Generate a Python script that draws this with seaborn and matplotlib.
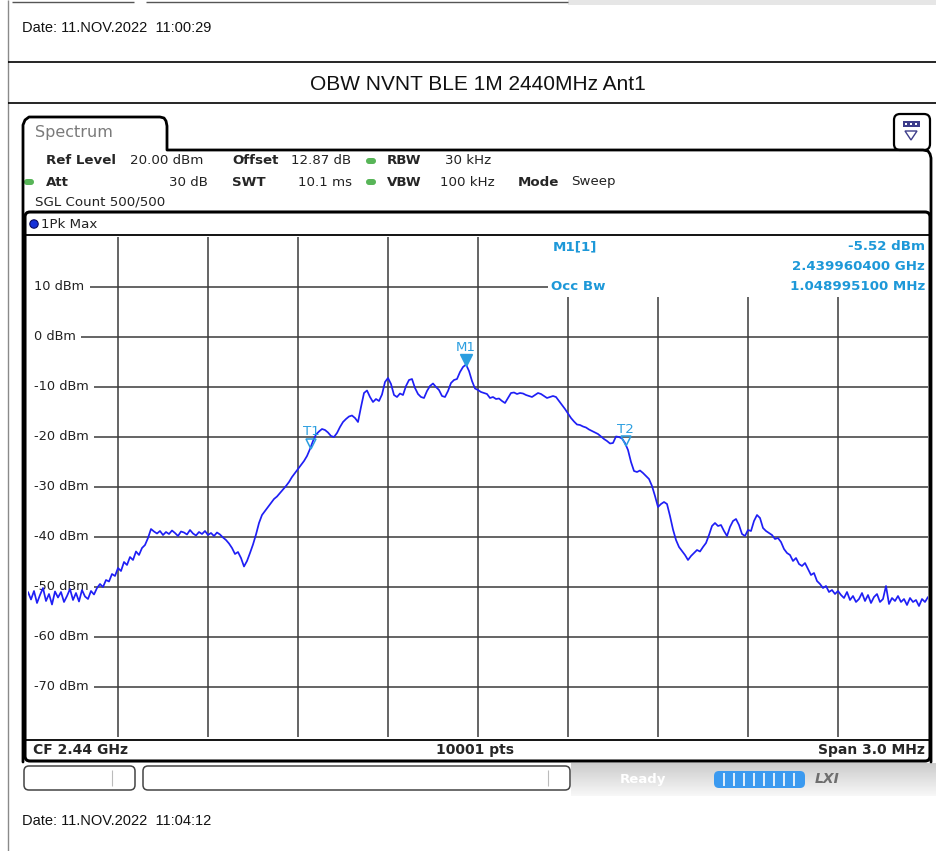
import numpy as np
import matplotlib
matplotlib.use("Agg")
import matplotlib.pyplot as plt
from matplotlib.patches import FancyBboxPatch, Rectangle, Polygon, Circle
import seaborn as sns

# Sweep: CF 2.44 GHz, span 3.0 MHz, trace every 0.01 MHz
freq_mhz = np.linspace(2438.5, 2441.5, 301)

# left skirt and rising edge (2438.50 .. 2439.46 MHz)
left_dbm = [-51.0, -52.5, -50.8, -53.2, -51.6, -50.2, -52.8, -51.4, -53.5, -50.9,
            -52.1, -51.0, -53.0, -51.8, -50.4, -52.6, -51.2, -52.9, -50.6, -51.9,
            -52.4, -50.8, -51.5, -50.2, -49.4, -50.0, -48.6, -48.9, -47.4, -47.8,
            -46.2, -46.8, -45.0, -45.6, -44.0, -44.6, -42.9, -43.6, -42.2, -41.6,
            -40.2, -38.4, -38.9, -39.3, -38.8, -39.6, -39.0, -39.4, -38.7, -39.2,
            -39.8, -38.9, -39.1, -39.5, -38.6, -39.3, -39.7, -39.0, -39.4, -38.8,
            -39.6, -39.2, -39.8, -39.1, -39.5, -40.1, -40.6, -41.3, -42.2, -43.4,
            -43.0, -44.2, -45.9, -44.8, -43.2, -41.5, -39.5, -37.2, -35.6, -34.8,
            -34.0, -33.2, -32.4, -31.9, -31.2, -30.5, -29.8, -29.0, -28.0, -27.2,
            -26.4, -25.6, -24.8, -23.8, -22.4, -20.8, -19.5]

# main lobe (2439.47 .. 2440.49 MHz)
main_dbm = [-18.9, -18.4, -18.6, -19.1, -19.8, -20.0, -19.2, -18.0, -17.0, -16.4,
            -15.9, -15.7, -16.2, -17.0, -14.0, -11.2, -10.7, -12.0, -13.0, -12.4,
            -12.8, -11.5, -9.0, -8.2, -9.4, -11.6, -12.0, -11.3, -11.6, -9.8,
            -8.6, -8.4, -10.2, -11.4, -12.0, -12.2, -10.8, -9.8, -9.3, -10.0,
            -10.6, -11.8, -12.0, -10.8, -9.2, -8.6, -8.4, -7.0, -6.0, -5.5,
            -6.8, -8.8, -10.3, -10.6, -11.0, -11.2, -11.4, -12.2, -12.0, -12.4,
            -12.3, -12.8, -13.2, -12.2, -11.2, -11.1, -11.4, -11.2, -11.3, -11.6,
            -11.8, -12.0, -11.6, -11.2, -11.4, -11.8, -12.2, -12.0, -11.8, -12.0,
            -12.8, -13.6, -14.4, -15.3, -16.2, -16.9, -17.5, -17.6, -17.9, -18.1,
            -18.5, -18.8, -19.1, -19.4, -19.9, -20.4, -20.8, -21.3, -21.2, -19.9,
            -20.0, -20.3, -21.2]

# falling edge and right skirt (2440.50 .. 2441.50 MHz)
right_dbm = [-22.6, -25.0, -26.8, -27.0, -26.7, -27.2, -27.8, -28.4, -29.8, -31.8,
             -34.0, -33.4, -33.0, -33.4, -35.8, -38.5, -40.6, -42.0, -42.8, -43.6,
             -44.6, -43.8, -43.2, -42.6, -42.9, -42.0, -41.2, -39.6, -37.8, -37.2,
             -37.8, -37.6, -38.8, -39.8, -38.0, -36.8, -36.4, -37.6, -39.4, -39.8,
             -38.6, -38.8, -36.8, -35.6, -36.2, -38.2, -38.8, -39.2, -39.6, -40.4,
             -40.2, -41.0, -42.4, -43.2, -43.6, -44.8, -44.2, -45.4, -45.8, -45.2,
             -46.4, -47.6, -47.2, -48.8, -49.4, -50.2, -49.8, -51.0, -50.6, -51.4,
             -50.8, -51.6, -52.2, -51.0, -52.6, -51.8, -53.0, -52.4, -51.2, -52.8,
             -51.6, -53.2, -52.0, -51.4, -53.0, -52.4, -49.8, -53.4, -52.2, -52.8,
             -51.8, -53.0, -52.4, -53.6, -52.2, -53.0, -52.6, -53.8, -52.4, -53.0,
             -52.0]

level_dbm = np.array(left_dbm + main_dbm + right_dbm)

ytick_vals = [10, 0, -10, -20, -30, -40, -50, -60, -70]
ytick_labels = ["10 dBm", "0 dBm", "-10 dBm", "-20 dBm", "-30 dBm",
                "-40 dBm", "-50 dBm", "-60 dBm", "-70 dBm"]

m1_freq = 2439.9604      # MHz
m1_level = -5.52         # dBm
occ_bw = 1.0489951       # MHz
t1_freq = 2439.443
t2_freq = t1_freq + occ_bw

TRACE = "#1f1ff5"
MARK = "#2b9ee0"
INFO = "#1d98d8"

sns.set_style("white")
plt.rcParams["font.family"] = ["DejaVu Sans"]

fig = plt.figure(figsize=(9.37, 8.51), dpi=100)

# pixel canvas for the screen furniture
bg = fig.add_axes([0, 0, 1, 1])
bg.set_xlim(0, 937)
bg.set_ylim(851, 0)
bg.axis("off")


def hline(x0, x1, y, lw=1.0, c="black", z=2):
    bg.plot([x0, x1], [y, y], color=c, lw=lw, solid_capstyle="butt", zorder=z)


def vline(x, y0, y1, lw=1.0, c="black", z=2):
    bg.plot([x, x], [y0, y1], color=c, lw=lw, solid_capstyle="butt", zorder=z)


def rbox(x0, y0, x1, y1, r=5, lw=1.0, ec="black", fc="none", z=2):
    bg.add_patch(FancyBboxPatch((x0, y0), x1 - x0, y1 - y0,
                                boxstyle="round,pad=0,rounding_size=%d" % r,
                                lw=lw, ec=ec, fc=fc, zorder=z))


# page: remnants of previous screen, borders, date, title
hline(12, 134, 2, lw=1, c="#555")
hline(146, 568, 2, lw=1, c="#555")
bg.add_patch(Rectangle((568, 0), 369, 5, fc="#e6e6e6", ec="none"))
vline(8, 0, 851, lw=1, c="#8a8a8a")
hline(8, 937, 62, lw=1.2)
hline(8, 937, 103, lw=1.2)
bg.text(22, 28, "Date: 11.NOV.2022  11:00:29", family="Liberation Sans",
        fontsize=10.5, va="center", ha="left", color="#111")
bg.text(478, 84, "OBW NVNT BLE 1M 2440MHz Ant1", family="Liberation Sans",
        fontsize=15, va="center", ha="center", color="#111")
bg.text(22, 821, "Date: 11.NOV.2022  11:04:12", family="Liberation Sans",
        fontsize=10.5, va="center", ha="left", color="#111")

# spectrum window with its tab
tab_x = [23, 23, 25, 29, 160, 164, 166, 167, 167, 923, 928, 930, 931, 931]
tab_y = [762, 125, 120, 117, 117, 118, 121, 126, 150, 150, 151, 154, 158, 762]
bg.plot(tab_x, tab_y, color="black", lw=2.0)
bg.text(35, 133, "Spectrum", fontsize=11.5, color="#7a7a7a", va="center")

# icon top right
rbox(894, 114, 930, 150, r=6, lw=1.6)
bg.add_patch(Rectangle((903, 121), 17, 6, fc="#3d3d8a", ec="none"))
for dx in (906, 911, 916):
    bg.add_patch(Rectangle((dx - 1, 123), 2, 2, fc="white", ec="none"))
bg.add_patch(Polygon([[905, 131], [917, 131], [911, 140]], closed=True,
                     fc="none", ec="#3d3d8a", lw=1))

# header settings
fs = 9.6
row1, row2, row3 = 161, 182, 202
bg.text(46, row1, "Ref Level", fontsize=fs, weight="bold", va="center")
bg.text(130, row1, "20.00 dBm", fontsize=fs, va="center", color="#222")
bg.text(232, row1, "Offset", fontsize=fs, weight="bold", va="center")
bg.text(291, row1, "12.87 dB", fontsize=fs, va="center", color="#222")
bg.text(387, row1, "RBW", fontsize=fs, weight="bold", va="center")
bg.text(445, row1, "30 kHz", fontsize=fs, va="center", color="#222")
bg.text(46, row2, "Att", fontsize=fs, weight="bold", va="center")
bg.text(208, row2, "30 dB", fontsize=fs, va="center", ha="right", color="#222")
bg.text(232, row2, "SWT", fontsize=fs, weight="bold", va="center")
bg.text(298, row2, "10.1 ms", fontsize=fs, va="center", color="#222")
bg.text(387, row2, "VBW", fontsize=fs, weight="bold", va="center")
bg.text(440, row2, "100 kHz", fontsize=fs, va="center", color="#222")
bg.text(518, row2, "Mode", fontsize=fs, weight="bold", va="center")
bg.text(571, row2, "Sweep", fontsize=fs, va="center", color="#222")
bg.text(35, row3, "SGL Count 500/500", fontsize=fs, va="center", color="#222")
for gx, gy in [(371, row1), (371, row2), (29, row2)]:
    bg.add_patch(FancyBboxPatch((gx - 5, gy - 3), 10, 6,
                                boxstyle="round,pad=0,rounding_size=3",
                                fc="#58b558", ec="none"))

# plot frame
rbox(25, 212, 930, 761, r=5, lw=2.2)
hline(25, 930, 235, lw=1.3)
hline(25, 930, 740, lw=1.3)
bg.add_patch(Circle((34, 224), 4.2, fc="#1530d8", ec="#0a0a60", lw=0.8))
bg.text(41, 224, "1Pk Max", fontsize=9.6, va="center", color="#222")
bg.text(33, 750, "CF 2.44 GHz", fontsize=10, weight="bold", va="center")
bg.text(475, 750, "10001 pts", fontsize=10, weight="bold", va="center", ha="center")
bg.text(925, 750, "Span 3.0 MHz", fontsize=10, weight="bold", va="center", ha="right")

# status bar
rbox(24, 766, 135, 790, r=5, lw=1.1, ec="#444")
vline(112, 770, 786, lw=0.8, c="#bbb")
rbox(143, 766, 570, 790, r=5, lw=1.1, ec="#444")
vline(548, 770, 786, lw=0.8, c="#bbb")
grad = np.linspace(0.80, 0.97, 40).reshape(-1, 1)
bg.imshow(grad, cmap="gray", vmin=0, vmax=1, aspect="auto",
          extent=(571, 937, 796, 763), zorder=1)
bg.set_xlim(0, 937)
bg.set_ylim(851, 0)
bg.text(620, 779, "Ready", fontsize=9.5, weight="bold", color="white",
        va="center", zorder=3)
rbox(714, 771, 805, 788, r=5, lw=0, ec="none", fc="#3b9af0", z=3)
for sx in range(724, 800, 10):
    vline(sx, 773, 786, lw=1.2, c="white", z=4)
bg.text(815, 779, "LXI", fontsize=10, weight="bold", style="italic",
        color="#6e6e6e", va="center", zorder=3)

# trace axes: 10 divisions of 0.3 MHz, 10 dB/div from 20 dBm
ax = fig.add_axes([28 / 937, 1 - 737 / 851, 900 / 937, 500 / 851])
ax.set_facecolor("none")
sns.lineplot(x=freq_mhz, y=level_dbm, ax=ax, color=TRACE, lw=1.25,
             estimator=None, errorbar=None, zorder=3)
ax.set_xlim(2438.5, 2441.5)
ax.set_ylim(-80, 20)
ax.set_xticks(np.linspace(2438.5, 2441.5, 11)[1:-1])
ax.set_yticks(ytick_vals)
ax.set_axisbelow(True)
ax.grid(True, color="#3a3a3a", lw=1.1)
ax.tick_params(length=0, labelbottom=False, labelleft=False)
ax.set_xlabel("")
ax.set_ylabel("")
for s in ax.spines.values():
    s.set_visible(False)

for v, lab in zip(ytick_vals, ytick_labels):
    ax.text(2438.52, v, lab, fontsize=9.3, va="center", ha="left", color="#222",
            bbox=dict(fc="white", ec="none", pad=4), zorder=2)

# marker readout box
ax.add_patch(Rectangle((548, 236), 380, 61, transform=bg.transData,
                       fc="white", ec="none", zorder=1))
ax.text(553, 247, "M1[1]", transform=bg.transData, fontsize=9.6, weight="bold",
        color=INFO, va="center", zorder=4)
ax.text(925, 247, "%.2f dBm" % m1_level, transform=bg.transData, fontsize=9.6,
        weight="bold", color=INFO, va="center", ha="right", zorder=4)
ax.text(925, 267, "%.9f GHz" % (m1_freq / 1000), transform=bg.transData,
        fontsize=9.6, weight="bold", color=INFO, va="center", ha="right", zorder=4)
ax.text(551, 287, "Occ Bw", transform=bg.transData, fontsize=9.6, weight="bold",
        color=INFO, va="center", zorder=4)
ax.text(925, 287, "%.9f MHz" % occ_bw, transform=bg.transData, fontsize=9.6,
        weight="bold", color=INFO, va="center", ha="right", zorder=4)

# markers M1, T1, T2
ax.plot([m1_freq], [m1_level + 0.9], marker="v", ms=8, color=MARK, ls="none", zorder=5)
ax.text(m1_freq, m1_level + 2.2, "M1", fontsize=9.6, color=MARK,
        ha="center", va="bottom", zorder=5)
for name, f in [("T1", t1_freq), ("T2", t2_freq)]:
    lv = np.interp(f, freq_mhz, level_dbm)
    ax.plot([f], [lv + 0.6], marker="v", ms=7, mfc="none", mec=MARK, mew=1.1,
            ls="none", zorder=5)
    ax.text(f, lv + 1.7, name, fontsize=9.6, color=MARK, ha="center",
            va="bottom", zorder=5)

fig.savefig("out.png", dpi=100)
